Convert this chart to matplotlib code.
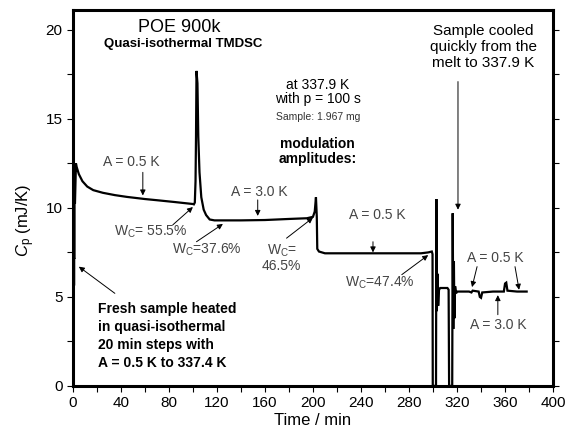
import matplotlib
matplotlib.use("Agg")
import matplotlib.pyplot as plt

plt.rcParams['font.family'] = ['Liberation Sans', 'DejaVu Sans']
plt.rcParams['mathtext.fontset'] = 'custom'
plt.rcParams['mathtext.rm'] = 'Liberation Sans'
plt.rcParams['mathtext.it'] = 'Liberation Sans:italic'

# Cp trace (time in min, Cp in mJ/K)
time = [0, 0.4, 0.4, 0.8, 0.8, 1.1, 1.1, 1.4, 1.4, 1.8, 2.6, 3.2, 5, 8, 12, 17, 25, 35, 45, 60, 72, 85, 100,
        100.8, 101.6, 102.2, 102.6, 103.0, 103.8, 104.5, 105.5, 107, 109, 111, 114, 118, 140, 160, 180, 195, 200,
        201.5, 202.5, 203.2, 203.6, 205, 210, 250, 290, 296, 299, 299.6, 299.8,
        302.5, 302.8, 303.2, 303.8, 304.3, 305, 306, 312, 313, 313.4,
        316.0, 316.4, 316.9, 317.4, 317.8, 318.4, 319.2, 320,
        330, 332, 333, 338, 339, 340, 341, 350, 359, 360, 361, 362, 370, 378]
cp = [0, 0, 3.5, 3.5, 5.7, 5.7, 7.2, 7.2, 10.3, 10.3, 12.5, 12.3, 11.9, 11.5, 11.2, 11.0, 10.85, 10.72, 10.62, 10.5, 10.42, 10.33, 10.22,
      10.2, 10.3, 11.5, 14.0, 17.7, 17.0, 14.0, 12.0, 10.6, 9.9, 9.6, 9.35, 9.3, 9.3, 9.32, 9.38, 9.42, 9.5,
      9.8, 10.6, 9.5, 7.7, 7.55, 7.45, 7.45, 7.45, 7.5, 7.55, 7.4, 0,
      0, 10.5, 4.2, 6.3, 4.5, 5.4, 5.5, 5.5, 5.4, 0,
      0, 9.7, 3.2, 7.0, 3.8, 5.6, 5.2, 5.3,
      5.3, 5.25, 5.35, 5.3, 5.0, 4.95, 5.25, 5.3, 5.3, 5.75, 5.8, 5.35, 5.3, 5.3]

x_ticks = [0, 40, 80, 120, 160, 200, 240, 280, 320, 360, 400]
y_ticks = [0, 5, 10, 15, 20]

# (label, x, y) for the grey step labels
step_labels = [("A = 0.5 K", 49, 12.6), ("A = 3.0 K", 155, 10.9), ("A = 0.5 K", 254, 9.6),
               ("A = 0.5 K", 352, 7.2), ("A = 3.0 K", 354, 3.4)]
wc_labels = [("W$_\\mathregular{C}$= 55.5%", 65, 8.65), ("W$_\\mathregular{C}$=37.6%", 112, 7.65),
             ("W$_\\mathregular{C}$=\n46.5%", 174, 7.2), ("W$_\\mathregular{C}$=47.4%", 256, 5.8)]
# (tail, tip) of each pointer
arrows = [((58.3, 12.0), (58.3, 10.7)), ((154, 10.45), (154, 9.55)), ((250, 8.1), (250, 7.5)),
          ((336.7, 6.7), (332.5, 5.55)), ((368.3, 6.7), (371.7, 5.4)), ((354, 4.0), (354, 5.1)),
          ((83.3, 9.05), (100, 10.05)), ((103, 8.1), (125, 9.1)), ((178, 8.3), (200, 9.45)),
          ((274, 6.25), (296, 7.35)), ((320.8, 17.1), (320.8, 9.9)), ((35, 5.2), (5, 6.7))]

fig = plt.figure(figsize=(5.69, 4.37), dpi=100)
ax = fig.add_axes([0.128, 0.117, 0.844, 0.860])
ax.plot(time, cp, color='black', lw=1.6, solid_joinstyle='miter')

ax.set_xlim(0, 400)
ax.set_ylim(0, 21.12)
ax.set_xticks(x_ticks)
ax.set_yticks(y_ticks)
ax.set_xticks(range(20, 400, 40), minor=True)
ax.set_yticks([2.5, 7.5, 12.5, 17.5], minor=True)
ax.tick_params(which='both', direction='out', length=4, width=0.8, labelsize=11,
               right=True, top=False, labelright=False)
for s in ax.spines.values():
    s.set_linewidth(2.2)

ax.set_xlabel("Time / min", fontsize=12, labelpad=2)
ax.set_ylabel("$C_\\mathrm{p}$ (mJ/K)", fontsize=12)
ax.yaxis.set_label_coords(-0.075, 0.44)

ax.text(89, 20.15, "POE 900k", fontsize=13, ha='center', va='center')
ax.text(92, 19.2, "Quasi-isothermal TMDSC", fontsize=9.5, fontweight='bold', ha='center', va='center')
ax.text(204, 16.5, "at 337.9 K\nwith p = 100 s", fontsize=10, ha='center', va='center', linespacing=1.0)
ax.text(204, 15.1, "Sample: 1.967 mg", fontsize=7.5, color='#333333', ha='center', va='center')
ax.text(204, 13.15, "modulation\namplitudes:", fontsize=10, fontweight='bold', ha='center', va='center',
        linespacing=1.1)
ax.text(342, 19.05, "Sample cooled\nquickly from the\nmelt to 337.9 K", fontsize=11, ha='center',
        va='center', linespacing=1.15)
ax.text(21, 2.8, "Fresh sample heated\nin quasi-isothermal\n20 min steps with\nA = 0.5 K to 337.4 K",
        fontsize=10, fontweight='bold', ha='left', va='center', linespacing=1.35)

for label, x, y in step_labels:
    ax.text(x, y, label, fontsize=10, color='#444444', ha='center', va='center')
for label, x, y in wc_labels:
    ax.text(x, y, label, fontsize=10, color='#444444', ha='center', va='center', linespacing=1.05)
for tail, tip in arrows:
    ax.annotate('', xy=tip, xytext=tail,
                arrowprops=dict(arrowstyle='-|>', lw=0.7, color='black', mutation_scale=8,
                                shrinkA=0, shrinkB=0))

fig.savefig('out.png', dpi=100)
